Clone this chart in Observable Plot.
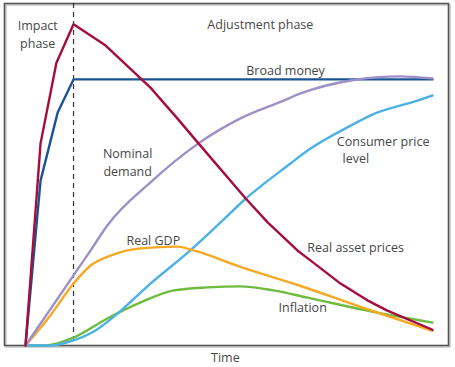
<!DOCTYPE html>
<html>
<head>
<meta charset="utf-8">
<script src="https://cdn.jsdelivr.net/npm/d3@7"></script>
<script src="https://cdn.jsdelivr.net/npm/@observablehq/plot@0.6"></script>
<style>
  html, body { margin: 0; padding: 0; background: #fff; }
  #chart { width: 455px; height: 367px; }
</style>
</head>
<body>
<div id="chart"></div>
<script>
// Time index (0 = shock, 100 = end) and level (0..100)
const realAssetT = [0, 3.7, 7.6, 11.8, 19.7, 30.7, 37.3, 42.5, 54.1, 59.5, 66.8, 70.0, 77.4, 84.0, 88.9, 100];
const realAssetV = [0, 59.1, 82.7, 93.9, 87.7, 75.4, 66.4, 59.1, 43.0, 36.0, 27.8, 24.9, 18.1, 13.2, 10.2, 4.6];

const broadMoneyT = [0, 3.7, 7.9, 11.8, 100];
const broadMoneyV = [0, 48.2, 68.1, 77.8, 77.8];

const nominalT = [0, 11.8, 16.0, 20.1, 30.7, 42.5, 52.8, 63.4, 67.6, 79.9, 92.1, 100];
const nominalV = [0, 20.5, 27.8, 35.1, 47.7, 59.1, 66.4, 71.6, 73.7, 77.5, 78.7, 78.1];

const gdpT = [0, 6.1, 11.8, 16.0, 20.9, 28.3, 37.3, 41.3, 52.8, 67.6, 84.0, 100];
const gdpV = [0, 8.8, 18.1, 23.4, 26.3, 28.4, 28.9, 27.8, 23.0, 17.4, 10.6, 4.3];

const cpiT = [0, 6.1, 11.8, 17.2, 22.1, 30.7, 40.5, 48.4, 53.6, 65.1, 69.3, 79.9, 84.8, 96.3, 100];
const cpiV = [0, 0, 1.5, 4.4, 8.8, 18.1, 27.8, 36.5, 42.4, 53.2, 57.0, 64.3, 67.3, 71.6, 73.1];

const inflT = [0, 4.9, 11.8, 20.1, 28.3, 36.4, 44.7, 52.8, 60.9, 69.3, 84.0, 100];
const inflV = [0, 0, 2.3, 7.9, 12.6, 16.1, 17.0, 17.3, 16.1, 14.0, 10.2, 6.7];

const phaseBoundary = [11.8];

const zip = (T, V) => T.map((t, i) => ({t, v: V[i]}));

const textColor = "#474747";
const font = "Open Sans, sans-serif";
const fs = 12.5;

const lineOpts = (color, curve) => ({x: "t", y: "v", stroke: color, strokeWidth: 2.4, curve});

const chart = Plot.plot({
  width: 455,
  height: 367,
  marginLeft: 4,
  marginRight: 7,
  marginTop: 3,
  marginBottom: 22,
  style: {fontFamily: font, fontSize: "12.5px", background: "#fff"},
  x: {domain: [-5.16, 103.93], axis: null},
  y: {domain: [0, 100], axis: null},
  marks: [
    Plot.frame({stroke: "#c8c8c8", strokeWidth: 1.5, dx: 1.5, dy: 1.5}),
    Plot.frame({stroke: "#555", strokeWidth: 1.6}),
    Plot.ruleX(phaseBoundary, {stroke: "#333", strokeWidth: 1.2, strokeDasharray: "5,4"}),
    Plot.line(zip(inflT, inflV), lineOpts("#6dbb3f", "monotone-x")),
    Plot.line(zip(cpiT, cpiV), lineOpts("#4cb2e6", "monotone-x")),
    Plot.line(zip(gdpT, gdpV), lineOpts("#f8a823", "monotone-x")),
    Plot.line(zip(broadMoneyT, broadMoneyV), lineOpts("#1a5496", "linear")),
    Plot.line(zip(nominalT, nominalV), lineOpts("#9d8fc8", "monotone-x")),
    Plot.line(zip(realAssetT, realAssetV), lineOpts("#a50d3d", "linear")),
    Plot.text(["Impact\nphase"], {x: 3.0, y: 91.3, lineHeight: 1.45, fill: textColor, fontSize: fs}),
    Plot.text(["Adjustment phase"], {x: 57.7, y: 93.6, fill: textColor, fontSize: fs}),
    Plot.text(["Broad money"], {x: 63.9, y: 80.4, fill: textColor, fontSize: fs}),
    Plot.text(["Nominal\ndemand"], {x: 25.1, y: 53.8, lineHeight: 1.45, fill: textColor, fontSize: fs}),
    Plot.text(["Consumer price"], {x: 76.5, y: 59.4, textAnchor: "start", fill: textColor, fontSize: fs}),
    Plot.text(["level"], {x: 77.9, y: 54.4, textAnchor: "start", fill: textColor, fontSize: fs}),
    Plot.text(["Real GDP"], {x: 31.4, y: 30.7, fill: textColor, fontSize: fs}),
    Plot.text(["Real asset prices"], {x: 81.1, y: 28.4, fill: textColor, fontSize: fs}),
    Plot.text(["Inflation"], {x: 68.1, y: 11.1, fill: textColor, fontSize: fs}),
    Plot.text(["Time"], {x: 49.1, y: -3.8, fill: textColor, fontSize: fs})
  ]
});
document.getElementById("chart").appendChild(chart);
</script>
</body>
</html>
